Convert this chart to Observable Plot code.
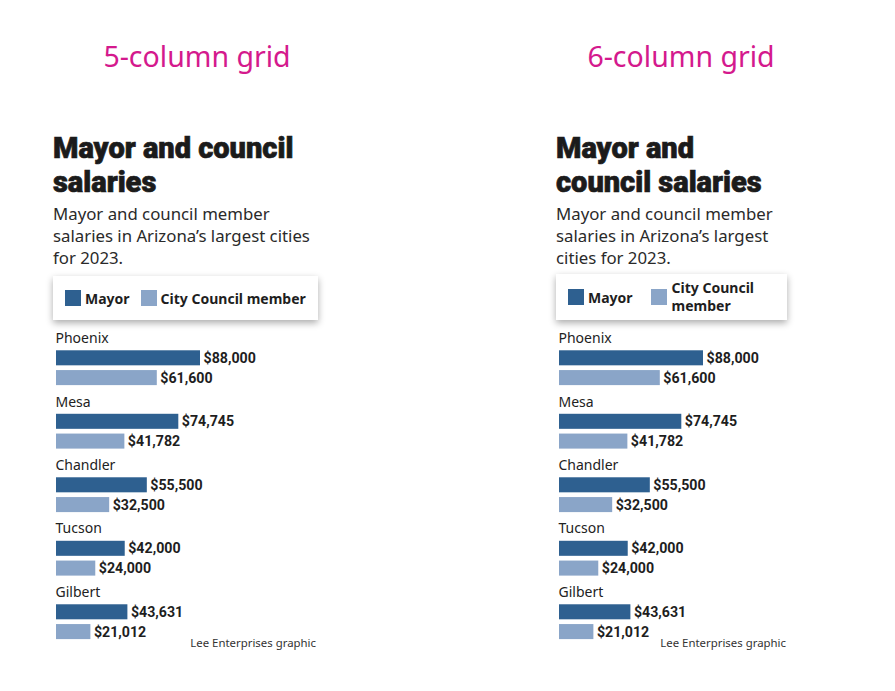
<!DOCTYPE html>
<html>
<head>
<meta charset="utf-8">
<script src="https://cdn.jsdelivr.net/npm/d3@7"></script>
<script src="https://cdn.jsdelivr.net/npm/@observablehq/plot@0.6"></script>
<style>
  body { margin: 0; background: #fff; }
  #page { position: relative; width: 895px; height: 691px; overflow: hidden; font-family: "Noto Sans", sans-serif; color: #222; }
  .panel { position: absolute; top: 0; width: 340px; height: 691px; }
  .grid-label { position: absolute; top: 36px; width: 300px; text-align: center; font-family: "Noto Sans", sans-serif; font-size: 28.5px; line-height: 40px; color: #d4198d; }
  .title { position: absolute; top: 131px; left: 53px; font-family: Roboto, "Lato", sans-serif; font-weight: 900; font-size: 29px; line-height: 34px; color: #1b1b1b; white-space: nowrap; -webkit-text-stroke: 0.7px #1b1b1b; }
  .sub { position: absolute; top: 203px; left: 53px; font-size: 16.8px; line-height: 22px; color: #2a2a2a; white-space: nowrap; }
  .legend { position: absolute; left: 53px; background: #fff; box-shadow: 0 3px 7px rgba(0,0,0,0.33); display: flex; align-items: center; font-weight: 700; font-size: 14px; color: #1e1e1e; box-sizing: border-box; padding-left: 12px; }
  .sw { width: 16px; height: 16px; flex: none; }
  .caption { position: absolute; top: 635px; width: 200px; text-align: right; font-size: 11.4px; color: #333; }
  .chart { position: absolute; left: 0; top: 320px; }
</style>
</head>
<body>
<div id="page"></div>
<script>
// ---- data ----
const cities = ["Phoenix", "Mesa", "Chandler", "Tucson", "Gilbert"];
const mayorSalaries = [88000, 74745, 55500, 42000, 43631];
const councilSalaries = [61600, 41782, 32500, 24000, 21012];
const seriesNames = ["Mayor", "City Council member"];
const seriesColors = ["#2e6090", "#8aa5c8"];
const captionText = "Lee Enterprises graphic";
const gridLabels = ["5-column grid", "6-column grid"];

// line breaks per panel layout
const panels = [
  { offset: 0, gridLabel: gridLabels[0], gridCenter: 197,
    titleLines: ["Mayor and council", "salaries"],
    subLines: ["Mayor and council member", "salaries in Arizona’s largest cities", "for 2023."],
    legendTop: 276, legendW: 265, legendH: 44, wrapText: false, captionRight: 316 },
  { offset: 503, gridLabel: gridLabels[1], gridCenter: 178,
    titleLines: ["Mayor and", "council salaries"],
    subLines: ["Mayor and council member", "salaries in Arizona’s largest", "cities for 2023."],
    legendTop: 274, legendW: 231, legendH: 46, wrapText: true, captionRight: 283 }
];

const bars = [];
cities.forEach((c, i) => {
  bars.push({ city: c, row: seriesNames[0], value: mayorSalaries[i] });
  bars.push({ city: c, row: seriesNames[1], value: councilSalaries[i] });
});
const labels = cities.map(c => ({ city: c, row: "label" }));
const rowKeys = ["label", ...seriesNames];
const fmt = d3.format(",");

const page = document.getElementById("page");

panels.forEach(p => {
  const panel = document.createElement("div");
  panel.className = "panel";
  panel.style.left = p.offset + "px";
  page.appendChild(panel);

  const g = document.createElement("div");
  g.className = "grid-label";
  g.style.left = (p.gridCenter - 150) + "px";
  g.textContent = p.gridLabel;
  panel.appendChild(g);

  const t = document.createElement("div");
  t.className = "title";
  t.innerHTML = p.titleLines.join("<br>");
  panel.appendChild(t);

  const s = document.createElement("div");
  s.className = "sub";
  s.innerHTML = p.subLines.join("<br>");
  panel.appendChild(s);

  const lg = document.createElement("div");
  lg.className = "legend";
  lg.style.top = p.legendTop + "px";
  lg.style.width = p.legendW + "px";
  lg.style.height = p.legendH + "px";
  seriesNames.forEach((name, i) => {
    const sw = document.createElement("div");
    sw.className = "sw";
    sw.style.background = seriesColors[i];
    sw.style.marginLeft = i === 0 ? "0px" : (p.wrapText ? "18px" : "11px");
    lg.appendChild(sw);
    const tx = document.createElement("div");
    tx.textContent = name;
    tx.style.marginLeft = (i === 1 && p.wrapText) ? "5px" : "4px";
    if (i === 1 && p.wrapText) { tx.style.width = "92px"; tx.style.lineHeight = "18px"; }
    lg.appendChild(tx);
  });
  panel.appendChild(lg);

  const chart = Plot.plot({
    width: 330,
    height: 330,
    margin: 0,
    style: { fontFamily: "Noto Sans, sans-serif", fontSize: "14px", color: "#222", background: "transparent", overflow: "visible" },
    x: { domain: [0, 88000], range: [56, 200], axis: null },
    fy: { domain: cities, range: [10.5, 319.1], paddingInner: 0.14, paddingOuter: 0, round: false, axis: null, label: null },
    y: { domain: rowKeys, paddingInner: 0.24, paddingOuter: 0, round: false, axis: null },
    color: { domain: seriesNames, range: seriesColors },
    marks: [
      Plot.barX(bars, { x: "value", y: "row", fy: "city", fill: "row" }),
      Plot.text(bars, {
        x: "value", y: "row", fy: "city", text: d => "$" + fmt(d.value),
        textAnchor: "start", dx: 3, fill: "#1e1e1e",
        fontFamily: "Roboto, sans-serif",
        fontWeight: 700, fontSize: 14.2,
        style: "letter-spacing:-0.5px"
      }),
      Plot.text(labels, {
        x: 0, y: "row", fy: "city", text: "city", textAnchor: "start", dx: -1,
        fill: "#222", fontSize: 14
      })
    ]
  });
  chart.classList.add("chart");
  panel.appendChild(chart);

  const cap = document.createElement("div");
  cap.className = "caption";
  cap.style.left = (p.captionRight - 200) + "px";
  cap.textContent = captionText;
  panel.appendChild(cap);
});
</script>
</body>
</html>
